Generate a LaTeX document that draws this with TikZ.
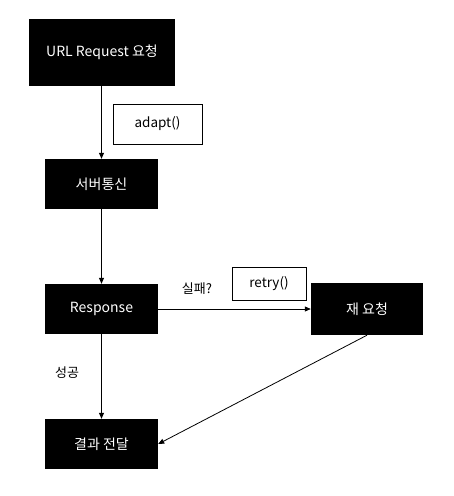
\documentclass[tikz,border=0pt]{standalone}
\usepackage{fontspec}
\setmainfont{Noto Sans CJK KR}
\usetikzlibrary{arrows.meta}
\begin{document}
\begin{tikzpicture}[x=1pt,y=-1pt,
  darkbox/.style={fill=black,text=white,inner sep=0pt,font=\fontsize{14}{16}\selectfont},
  lightbox/.style={draw=black,line width=0.8pt,fill=white,inner sep=0pt,font=\fontsize{13.5}{16}\selectfont},
  lbl/.style={inner sep=0pt,font=\fontsize{13}{16}\selectfont},
  conn/.style={draw=black,line width=0.8pt,-{Triangle[length=6pt,width=5pt]}}]
\useasboundingbox (0,0) rectangle (454,496);
\node[darkbox,minimum width=146pt,minimum height=67pt] (url) at (102,52.5) {URL Request 요청};
\node[lightbox,minimum width=89pt,minimum height=40pt] (adapt) at (157.5,124) {adapt()};
\node[darkbox,minimum width=113pt,minimum height=50pt] (server) at (101.5,184) {서버통신};
\node[darkbox,minimum width=113pt,minimum height=50pt] (resp) at (101.5,309) {Response};
\node[lightbox,minimum width=74pt,minimum height=33pt] (retry) at (269,283.5) {retry()};
\node[darkbox,minimum width=112pt,minimum height=52pt] (rereq) at (367,309) {재 요청};
\node[darkbox,minimum width=113pt,minimum height=50pt] (result) at (101.5,444) {결과 전달};
\node[lbl] (fail) at (197,289) {실패?};
\node[lbl] (ok) at (67,373) {성공};
\draw[conn] (url.south -| server.north) -- (server.north);
\draw[conn] (server.south) -- (resp.north);
\draw[conn] (resp.south) -- (result.north);
\draw[conn] (resp.east) -- (rereq.west);
\draw[conn] (rereq.south) -- (result.east);
\end{tikzpicture}
\end{document}
